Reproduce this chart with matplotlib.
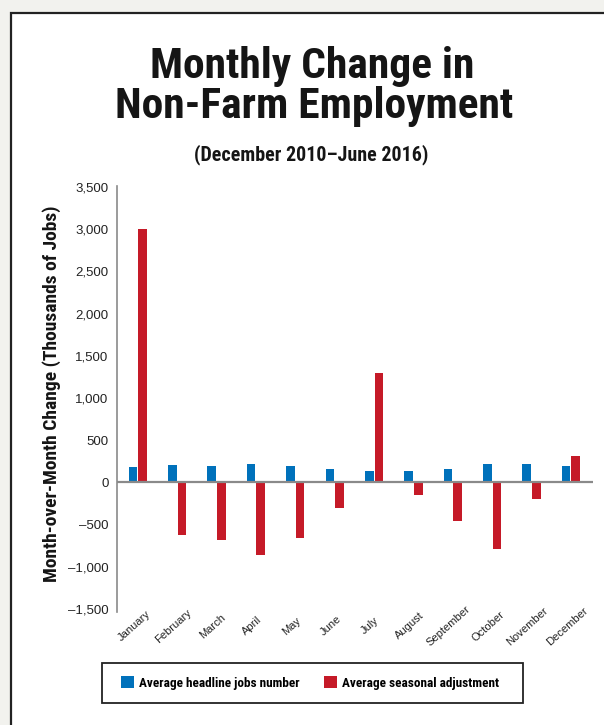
import matplotlib
matplotlib.use("Agg")
import matplotlib.pyplot as plt
import numpy as np
from matplotlib.patches import Rectangle, Patch
from matplotlib.transforms import ScaledTranslation

months = ["January", "February", "March", "April", "May", "June", "July",
          "August", "September", "October", "November", "December"]
headline = [179, 211, 199, 222, 199, 163, 139, 139, 163, 222, 222, 199]
seasonal = [3000, -628, -680, -857, -656, -300, 1296, -146, -454, -786, -193, 318]
yticks = [-1500, -1000, -500, 0, 500, 1000, 1500, 2000, 2500, 3000, 3500]
ytick_labels = ["\u20131,500", "\u20131,000", "\u2013500", "0", "500", "1,000",
                "1,500", "2,000", "2,500", "3,000", "3,500"]

NARROW = ["Roboto Condensed", "DejaVu Sans"]
REG = ["Liberation Sans", "DejaVu Sans"]

BLUE = "#0071bb"
RED = "#c51a28"
GREY = "#8a8a8a"
INK = "#151515"

W, H = 604, 725
fig = plt.figure(figsize=(W / 100, H / 100), dpi=100)
fig.patch.set_facecolor("#f2f2ee")

# white panel with dark frame
fig.patches.append(Rectangle((11 / W, -1), 2, (H - 13) / H + 1, transform=fig.transFigure,
                             facecolor="white", edgecolor="#222222", linewidth=1.6, zorder=-5))

ax = fig.add_axes([117 / W, (H - 612) / H, (592.5 - 117) / W, (612 - 186) / H])
ax.set_zorder(2)
ax.patch.set_alpha(0)
x = np.arange(len(months))
bw = 0.22
off = 0.123
ax.bar(x - off, headline, width=bw, color=BLUE, zorder=2)
ax.bar(x + off, seasonal, width=bw, color=RED, zorder=2)
ax.axhline(0, color=GREY, linewidth=1.6, zorder=3)
ax.set_xlim(-0.53, 11.55)
ax.set_ylim(-1535, 3513)

for s in ["top", "right", "bottom"]:
    ax.spines[s].set_visible(False)
ax.spines["left"].set_color(GREY)
ax.spines["left"].set_linewidth(1.2)

ax.set_yticks(yticks)
ax.set_yticklabels(ytick_labels, family=REG, fontsize=9.5, color="#222222")
ax.tick_params(axis="y", length=0, pad=6)
ax.set_xticks(x)
ax.set_xticklabels(months, rotation=42, ha="center", va="center", rotation_mode="anchor",
                   family=REG, fontsize=8, color="#222222")
ax.tick_params(axis="x", length=0, pad=0)
for lab in ax.get_xticklabels():
    lab.set_transform(lab.get_transform() + ScaledTranslation(-0.04, -0.14, fig.dpi_scale_trans))

ax.set_ylabel("Month-over-Month Change (Thousands of Jobs)", family=NARROW,
              fontweight="bold", fontsize=14, color=INK, va="center")
ax.yaxis.set_label_coords((52 - 117) / (592.5 - 117), (612 - 394) / (612 - 186))

fig.text(312 / W, 1 - 78 / H, "Monthly Change in", ha="center", va="baseline",
         family=NARROW, fontweight="bold", fontsize=31.3, color=INK)
fig.text(314 / W, 1 - 118 / H, "Non-Farm Employment", ha="center", va="baseline",
         family=NARROW, fontweight="bold", fontsize=31.3, color=INK)
fig.text(311 / W, 1 - 160 / H, "(December 2010\u2013June 2016)", ha="center", va="baseline",
         family=NARROW, fontweight="bold", fontsize=14.4, color=INK)

# legend box
fig.patches.append(Rectangle((102 / W, (H - 703) / H), (523 - 102) / W, 40 / H,
                             transform=fig.transFigure, facecolor="white",
                             edgecolor="#222222", linewidth=1.3, zorder=1))
handles = [Patch(facecolor=BLUE, label="Average headline jobs number"),
           Patch(facecolor=RED, label="Average seasonal adjustment")]
leg = fig.legend(handles=handles, loc="center left", ncol=2,
                 bbox_to_anchor=(121 / W, 1 - 683 / H), frameon=False,
                 handlelength=1.0, handleheight=0.95, handletextpad=0.38,
                 columnspacing=1.85, borderpad=0, borderaxespad=0,
                 prop={"family": NARROW, "weight": "bold", "size": 9.5})
leg.set_zorder(3)

fig.savefig("out.png", dpi=100, facecolor=fig.get_facecolor())
